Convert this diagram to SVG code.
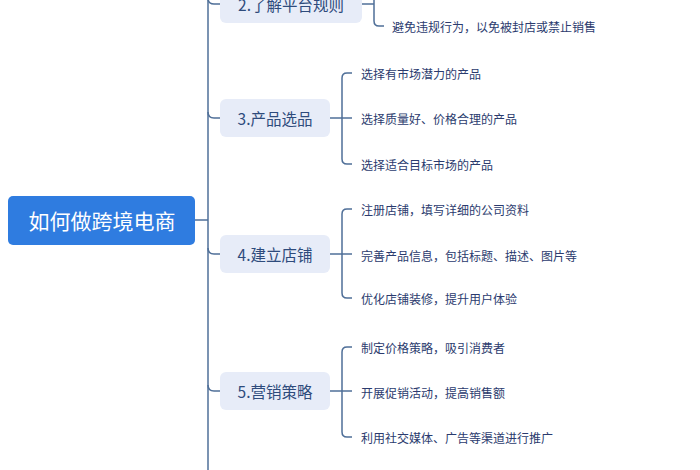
<svg xmlns="http://www.w3.org/2000/svg" width="700" height="470" viewBox="0 0 700 470">
<style>
text{font-family:"Noto Sans CJK SC","Noto Sans",sans-serif;dominant-baseline:central}
.root{fill:#2f7ce0}
.rt{fill:#ffffff;font-size:21px;text-anchor:middle}
.br{fill:#e7ecf8}
.bt{fill:#2e4b7c;font-size:15.5px;text-anchor:middle}
.ct{fill:#2b3b6e;font-size:12px}
.ln{fill:none;stroke:#4f6f98;stroke-width:1.5}
</style>
<rect width="700" height="470" fill="#ffffff"/>
<g id="connectors">
<path class="ln" d="M195,220 H208"/>
<path class="ln" d="M208,-10 V480"/>
<path class="ln" d="M208,-2 Q208,4 214,4 H220"/>
<path class="ln" d="M208,112 Q208,118 214,118 H220"/>
<path class="ln" d="M208,248 Q208,254 214,254 H220"/>
<path class="ln" d="M208,385 Q208,391 214,391 H220"/>
<path class="ln" d="M362,4 H374"/>
<path class="ln" d="M384,26 H379 Q374,26 374,21 V-40"/>
<path class="ln" d="M330,118 H352"/>
<path class="ln" d="M352,73 H347 Q342,73 342,78 V159 Q342,164 347,164 H352"/>
<path class="ln" d="M330,254 H352"/>
<path class="ln" d="M352,209 H347 Q342,209 342,214 V293 Q342,298 347,298 H352"/>
<path class="ln" d="M330,391 H352"/>
<path class="ln" d="M352,347 H347 Q342,347 342,352 V432 Q342,437 347,437 H352"/>
</g>
<g id="root">
<rect class="root" x="8" y="196" width="187" height="49" rx="5"/>
<text class="rt" x="102" y="220">如何做跨境电商</text>
</g>
<g id="n2">
<rect class="br" x="220" y="-16" width="142" height="39" rx="6"/>
<text class="bt" x="291" y="4">2.了解平台规则</text>
<text class="ct" x="392" y="26">避免违规行为，以免被封店或禁止销售</text>
</g>
<g id="n3">
<rect class="br" x="220" y="99" width="110" height="38" rx="6"/>
<text class="bt" x="275" y="118">3.产品选品</text>
<text class="ct" x="361" y="73">选择有市场潜力的产品</text>
<text class="ct" x="361" y="118">选择质量好、价格合理的产品</text>
<text class="ct" x="361" y="164">选择适合目标市场的产品</text>
</g>
<g id="n4">
<rect class="br" x="220" y="235" width="110" height="38" rx="6"/>
<text class="bt" x="275" y="254">4.建立店铺</text>
<text class="ct" x="361" y="209">注册店铺，填写详细的公司资料</text>
<text class="ct" x="361" y="255">完善产品信息，包括标题、描述、图片等</text>
<text class="ct" x="361" y="298">优化店铺装修，提升用户体验</text>
</g>
<g id="n5">
<rect class="br" x="220" y="372" width="110" height="38" rx="6"/>
<text class="bt" x="275" y="391">5.营销策略</text>
<text class="ct" x="361" y="347">制定价格策略，吸引消费者</text>
<text class="ct" x="361" y="392">开展促销活动，提高销售额</text>
<text class="ct" x="361" y="437">利用社交媒体、广告等渠道进行推广</text>
</g>
</svg>
